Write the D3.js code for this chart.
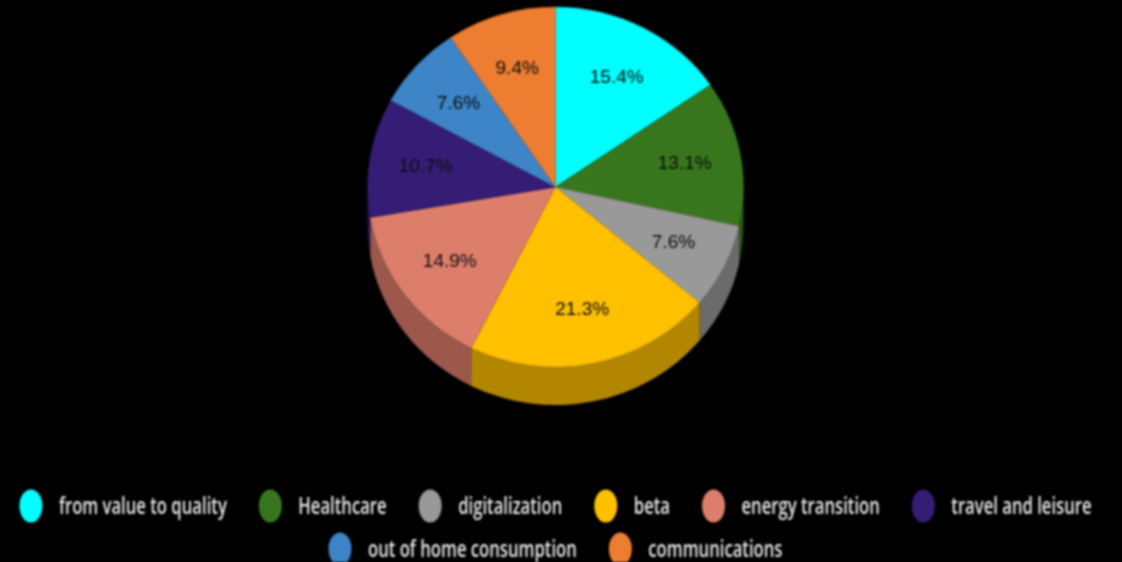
<!DOCTYPE html>
<html>
<head>
<meta charset="utf-8">
<script src="https://cdn.jsdelivr.net/npm/d3@7"></script>
<style>
	html, body { margin: 0; padding: 0; background: #000; overflow: hidden; }
	svg { display: block; filter: blur(0.8px); }
</style>
</head>
<body>
<svg id="chart" width="1122" height="562"></svg>
<script>
const categories = ['from value to quality', 'Healthcare', 'digitalization', 'beta', 'energy transition', 'travel and leisure', 'out of home consumption', 'communications'];
const values = [15.4, 13.1, 7.6, 21.3, 14.9, 10.7, 7.6, 9.4];
const colors = ['#00ffff', '#38761d', '#999999', '#ffc000', '#dd7e6b', '#351c75', '#3d85c6', '#ed7d31'];

const cx = 555.5, cy = 187, rx = 188, ry = 180, depth = 38;
const squash = ry / rx;

const svg = d3.select('#chart');
const pie = d3.pie().sort(null).value((d) => d.value);
const slices = pie(categories.map((name, i) => ({ name, value: values[i], color: colors[i] })));
const arc = d3.arc().innerRadius(0).outerRadius(rx);

const plot = svg.append('g').attr('transform', `translate(${cx},${cy}) scale(1,${squash})`);

// side wall: only the part of a slice that faces the viewer (pie angles PI/2 .. 3PI/2)
function wallPath(s) {
	const a0 = Math.max(s.startAngle, Math.PI / 2) - Math.PI / 2;
	const a1 = Math.min(s.endAngle, 1.5 * Math.PI) - Math.PI / 2;
	if (a1 <= a0) return null;
	const h = depth / squash;
	const p = d3.path();
	p.arc(0, 0, rx, a0, a1);
	p.arc(0, h, rx, a1, a0, true);
	p.closePath();
	return p.toString();
}

plot.selectAll('.wall')
	.data(slices.filter((s) => wallPath(s)))
	.join('path')
	.attr('class', 'wall')
	.attr('d', wallPath)
	.attr('fill', (s) => d3.color(s.data.color).darker(1));

plot.selectAll('.slice')
	.data(slices)
	.join('path')
	.attr('class', 'slice')
	.attr('d', arc)
	.attr('fill', (s) => s.data.color)
	.attr('stroke', (s) => d3.color(s.data.color).darker(0.6))
	.attr('stroke-width', 0.5);

// labels sit at about 70% of the radius, then get squashed with the pie
svg.selectAll('.pct')
	.data(slices)
	.join('text')
	.attr('class', 'pct')
	.attr('x', (s) => cx + 0.7 * rx * Math.sin((s.startAngle + s.endAngle) / 2))
	.attr('y', (s) => cy - 0.69 * ry * Math.cos((s.startAngle + s.endAngle) / 2) + 6)
	.attr('text-anchor', 'middle')
	.attr('font-family', 'Liberation Sans')
	.attr('font-size', 19)
	.attr('fill', '#0c0c0c')
	.text((s) => `${s.data.value}%`);

// legend, wrapped into centred rows
const legendFont = 23, squeeze = 0.725;
const rowY = [506, 549];
const itemGap = 32, keyRx = 11.5, keyRy = 16.5, keyToText = 28;
const rowBreak = 6;

const rows = [slices.slice(0, rowBreak), slices.slice(rowBreak)];
rows.forEach((row, r) => {
	const items = row.map((s) => {
		const g = svg.append('g');
		g.append('ellipse').attr('rx', keyRx).attr('ry', keyRy).attr('fill', s.data.color);
		const t = g.append('text')
			.attr('transform', `translate(${keyToText},7.5) scale(${squeeze},1)`)
			.attr('font-family', 'Open Sans')
			.attr('font-weight', 600)
			.attr('font-size', legendFont)
			.attr('fill', '#e8e8e8')
			.text(s.data.name);
		return { g, w: keyRx + keyToText + t.node().getComputedTextLength() * squeeze };
	});
	const total = d3.sum(items, (d) => d.w) + itemGap * (items.length - 1);
	let x = cx - total / 2;
	items.forEach((it) => {
		it.g.attr('transform', `translate(${x + keyRx},${rowY[r]})`);
		x += it.w + itemGap;
	});
});
</script>
</body>
</html>
